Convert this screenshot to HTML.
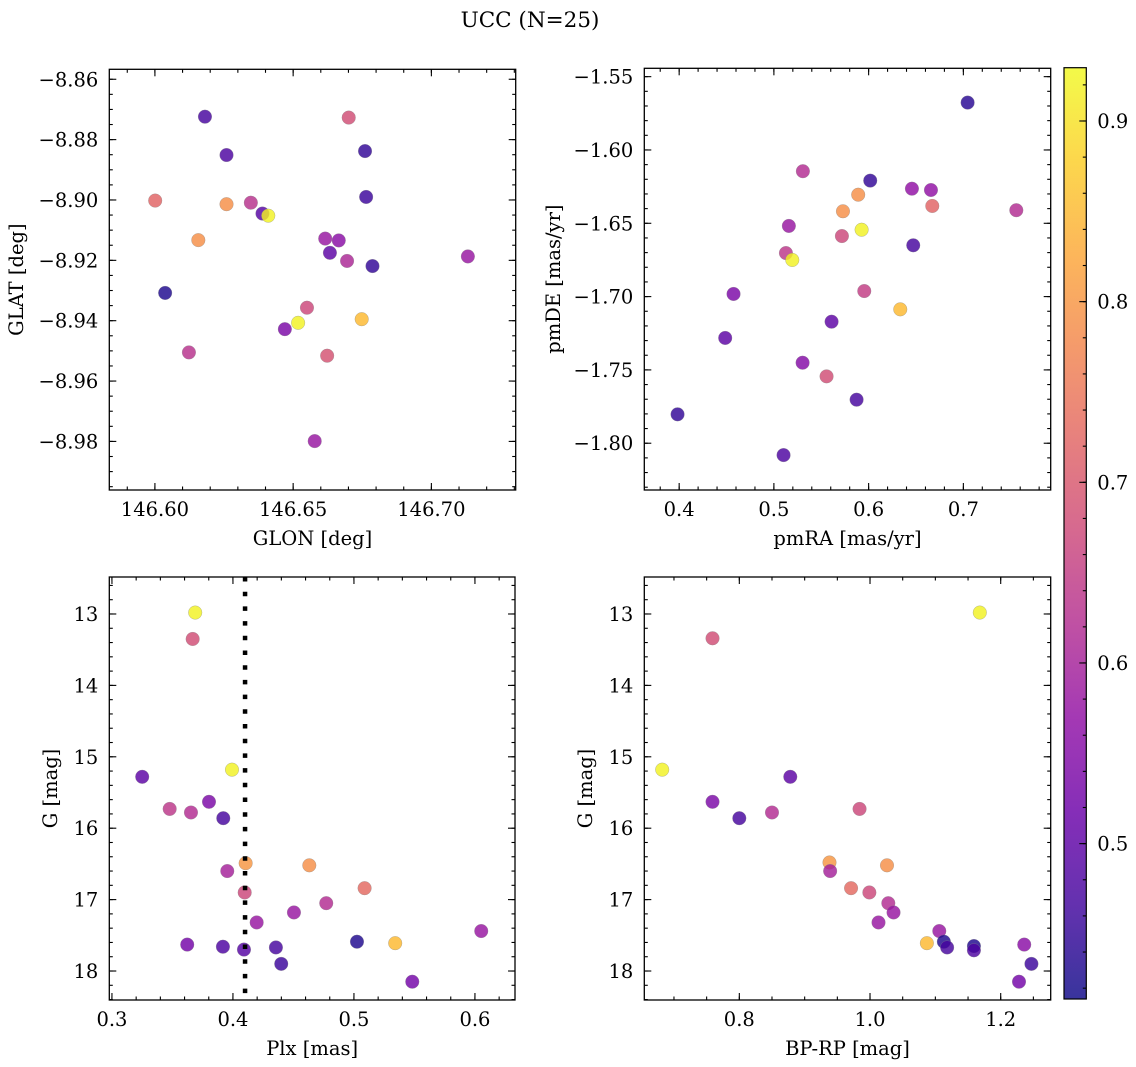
<!DOCTYPE html>
<html><head><meta charset="utf-8"><style>
html,body{margin:0;padding:0;background:#fff;width:1136px;height:1067px;overflow:hidden;}
svg{display:block;font-family:"DejaVu Serif","Liberation Serif",serif;}
</style></head><body>
<svg id="fig" width="1136" height="1067" viewBox="0 0 1136 1067" xmlns="http://www.w3.org/2000/svg">
<text x="530" y="27" font-size="21.5" text-anchor="middle">UCC (N=25)</text>
</svg>
<script>
// ---- Panel 1: GLON / GLAT ----
const glonTL = [146.6181,146.6701,146.6259,146.6760,146.6001,146.6259,146.6347,146.6389,146.6410,146.6764,146.6157,146.6616,146.6665,146.6633,146.6695,146.6787,146.7132,146.6037,146.6550,146.6518,146.6748,146.6470,146.6123,146.6623,146.6578];
const glatTL = [-8.8724,-8.8727,-8.8851,-8.8838,-8.9002,-8.9014,-8.9009,-8.9045,-8.9052,-8.8990,-8.9133,-8.9128,-8.9134,-8.9175,-8.9202,-8.9219,-8.9187,-8.9308,-8.9357,-8.9407,-8.9395,-8.9428,-8.9505,-8.9516,-8.9799];
const probTL = [0.47,0.68,0.48,0.45,0.72,0.79,0.63,0.49,0.92,0.46,0.79,0.58,0.56,0.5,0.61,0.45,0.58,0.43,0.67,0.92,0.85,0.54,0.63,0.69,0.58];
const xTicksTL = [146.60,146.65,146.70];
const xTickLabelsTL = ["146.60","146.65","146.70"];
const yTicksTL = [-8.86,-8.88,-8.90,-8.92,-8.94,-8.96,-8.98];
const yTickLabelsTL = ["\u22128.86","\u22128.88","\u22128.90","\u22128.92","\u22128.94","\u22128.96","\u22128.98"];

// ---- Panel 2: pmRA / pmDE ----
const pmraTR = [0.7045,0.5306,0.6017,0.6457,0.6658,0.5890,0.6672,0.7559,0.5729,0.5158,0.5926,0.5718,0.6471,0.5127,0.5194,0.5954,0.4574,0.6334,0.5609,0.4486,0.5303,0.5556,0.5873,0.3983,0.5102];
const pmdeTR = [-1.5677,-1.6145,-1.6209,-1.6264,-1.6273,-1.6305,-1.6382,-1.6411,-1.6418,-1.6518,-1.6544,-1.6587,-1.6650,-1.6703,-1.6750,-1.6962,-1.6982,-1.7087,-1.7171,-1.7282,-1.7451,-1.7544,-1.7703,-1.7803,-1.8081];
const probTR = [0.44,0.62,0.45,0.57,0.57,0.79,0.72,0.62,0.79,0.58,0.92,0.67,0.47,0.64,0.92,0.65,0.54,0.85,0.5,0.5,0.55,0.68,0.47,0.45,0.48];
const xTicksTR = [0.4,0.5,0.6,0.7];
const xTickLabelsTR = ["0.4","0.5","0.6","0.7"];
const yTicksTR = [-1.55,-1.60,-1.65,-1.70,-1.75,-1.80];
const yTickLabelsTR = ["\u22121.55","\u22121.60","\u22121.65","\u22121.70","\u22121.75","\u22121.80"];

// ---- Panel 3: Plx / G ----
const plxBL = [0.3688,0.3667,0.3250,0.3992,0.3477,0.3802,0.3653,0.3920,0.4105,0.4631,0.3953,0.4097,0.5088,0.4771,0.4504,0.4196,0.6052,0.5025,0.5341,0.3622,0.3917,0.4091,0.4355,0.4399,0.5482];
const gBL = [12.98,13.35,15.28,15.18,15.73,15.63,15.78,15.86,16.49,16.52,16.60,16.90,16.84,17.05,17.18,17.32,17.44,17.59,17.61,17.63,17.66,17.70,17.67,17.90,18.15];
const probBL = [0.92,0.68,0.5,0.92,0.64,0.54,0.62,0.47,0.8,0.79,0.6,0.67,0.73,0.62,0.58,0.58,0.58,0.43,0.85,0.53,0.48,0.49,0.47,0.46,0.53];
const plxCut = [0.41];
const xTicksBL = [0.3,0.4,0.5,0.6];
const xTickLabelsBL = ["0.3","0.4","0.5","0.6"];
const yTicksG = [13,14,15,16,17,18];
const yTickLabelsG = ["13","14","15","16","17","18"];

// ---- Panel 4: BP-RP / G ----
const bprpBR = [1.168,0.759,0.682,0.878,0.759,0.800,0.850,0.984,0.938,0.939,1.026,0.971,0.999,1.028,1.036,1.013,1.106,1.113,1.087,1.236,1.159,1.118,1.159,1.247,1.228];
const gBR = [12.98,13.34,15.18,15.28,15.63,15.86,15.78,15.73,16.48,16.60,16.52,16.84,16.90,17.05,17.18,17.32,17.44,17.59,17.61,17.63,17.65,17.67,17.71,17.90,18.15];
const probBR = [0.92,0.68,0.92,0.5,0.54,0.47,0.62,0.67,0.8,0.6,0.79,0.73,0.67,0.62,0.58,0.58,0.58,0.43,0.85,0.56,0.43,0.47,0.48,0.46,0.53];
const xTicksBR = [0.8,1.0,1.2];
const xTickLabelsBR = ["0.8","1.0","1.2"];

// ---- Colorbar ----
const cbTicks = [0.5,0.6,0.7,0.8,0.9];
const cbTickLabels = ["0.5","0.6","0.7","0.8","0.9"];
const cbMin = 0.414, cbMax = 0.9295;

const NS = "http://www.w3.org/2000/svg";
const svg = document.getElementById('fig');
const TICKFS = 19.5, LABFS = 19.5;
function mk(tag, attrs, parent){
  const e = document.createElementNS(NS, tag);
  for (const k in attrs) e.setAttribute(k, attrs[k]);
  (parent||svg).appendChild(e);
  return e;
}
const plasma = ["#0d0887","#41049d","#6a00a8","#8f0da4","#b12a90","#cc4778","#e16462","#f2844b","#fca636","#fcce25","#f0f921"];
function hex(h){return [parseInt(h.slice(1,3),16),parseInt(h.slice(3,5),16),parseInt(h.slice(5,7),16)];}
function cmap(v){
  let t = (v-cbMin)/(cbMax-cbMin); t=Math.max(0,Math.min(1,t));
  const p=t*10, i=Math.min(9,Math.floor(p)), f=p-i;
  const a=hex(plasma[i]), b=hex(plasma[i+1]);
  return "rgb("+a.map((c,k)=>Math.round(c+(b[k]-c)*f)).join(",")+")";
}
function minorTicks(lo,hi,step){const r=[];const s=Math.ceil(lo/step-1e-6);for(let k=s;k*step<=hi+1e-9;k++)r.push(k*step);return r;}

function panel(o){
  const g = mk('g',{});
  
  
  const sx = v => o.x0 + (v-o.xmin)/(o.xmax-o.xmin)*(o.x1-o.x0);
  const sy = o.invert
    ? (v => o.y0 + (v-o.ymin)/(o.ymax-o.ymin)*(o.y1-o.y0))
    : (v => o.y0 + (o.ymax-v)/(o.ymax-o.ymin)*(o.y1-o.y0));
  const pg = mk('g',{}, g);
  
  
  for (let i=0;i<o.xs.length;i++){
    const c = mk('circle',{cx:sx(o.xs[i]),cy:sy(o.ys[i]),r:6.8,fill:cmap(o.cs[i]),'fill-opacity':0.82,stroke:'#888','stroke-width':0.5,'stroke-opacity':0.6}, pg);
    
    
  }
  if (o.vline){
    for (const v of o.vline){
      const l = mk('line',{x1:sx(v),x2:sx(v),y1:o.y0,y2:o.y1,stroke:'#000','stroke-width':4.5,'stroke-dasharray':'4.5 10.2'}, g);
      
      
    }
  }
  const fr = mk('rect',{x:o.x0,y:o.y0,width:o.x1-o.x0,height:o.y1-o.y0,fill:'none',stroke:'#000','stroke-width':1.3}, g);
  
  
  const tk = {stroke:'#000','stroke-width':1.1};
  for (const v of minorTicks(o.xmin,o.xmax,o.xminor)){const X=sx(v);mk('line',Object.assign({x1:X,x2:X,y1:o.y1,y2:o.y1-3.5},tk),g);mk('line',Object.assign({x1:X,x2:X,y1:o.y0,y2:o.y0+3.5},tk),g);}
  for (const v of minorTicks(o.ymin,o.ymax,o.yminor)){const Y=sy(v);mk('line',Object.assign({x1:o.x0,x2:o.x0+3.5,y1:Y,y2:Y},tk),g);mk('line',Object.assign({x1:o.x1,x2:o.x1-3.5,y1:Y,y2:Y},tk),g);}
  o.xt.forEach((v,i)=>{const X=sx(v);mk('line',Object.assign({x1:X,x2:X,y1:o.y1,y2:o.y1-7},tk),g);mk('line',Object.assign({x1:X,x2:X,y1:o.y0,y2:o.y0+7},tk),g);
    const t=mk('text',{x:X,y:o.y1+26,'font-size':TICKFS,'text-anchor':'middle'},g);t.textContent=o.xl[i];
    
    });
  o.yt.forEach((v,i)=>{const Y=sy(v);mk('line',Object.assign({x1:o.x0,x2:o.x0+7,y1:Y,y2:Y},tk),g);mk('line',Object.assign({x1:o.x1,x2:o.x1-7,y1:Y,y2:Y},tk),g);
    const t=mk('text',{x:o.x0-11,y:Y+7,'font-size':TICKFS,'text-anchor':'end'},g);t.textContent=o.yl[i];
    
    });
  const xt=mk('text',{x:(o.x0+o.x1)/2,y:o.y1+55,'font-size':LABFS,'text-anchor':'middle'},g);xt.textContent=o.xlabel;
  
  
  const yt=mk('text',{x:0,y:0,'font-size':LABFS,'text-anchor':'middle',transform:'translate('+o.ylx+','+(o.y0+o.y1)/2+') rotate(-90)'},g);yt.textContent=o.ylabel;
  
  
}

panel({name:'glon-glat-panel',x0:109.3,x1:515.7,y0:69.3,y1:490,xmin:146.5835,xmax:146.7305,ymin:-8.9961,ymax:-8.8567,
  xs:glonTL,ys:glatTL,cs:probTL,xt:xTicksTL,xl:xTickLabelsTL,yt:yTicksTL,yl:yTickLabelsTL,xminor:0.01,yminor:0.005,
  xlabel:'GLON [deg]',ylabel:'GLAT [deg]',ylx:23});
panel({name:'pm-panel',x0:644.3,x1:1050.7,y0:68.3,y1:490,xmin:0.3632,xmax:0.7922,ymin:-1.8319,ymax:-1.5443,
  xs:pmraTR,ys:pmdeTR,cs:probTR,xt:xTicksTR,xl:xTickLabelsTR,yt:yTicksTR,yl:yTickLabelsTR,xminor:0.02,yminor:0.01,
  xlabel:'pmRA [mas/yr]',ylabel:'pmDE [mas/yr]',ylx:560});
panel({name:'plx-g-panel',x0:109.3,x1:515,y0:577,y1:1000,xmin:0.2978,xmax:0.6331,ymin:12.482,ymax:18.406,invert:true,
  xs:plxBL,ys:gBL,cs:probBL,vline:plxCut,xt:xTicksBL,xl:xTickLabelsBL,yt:yTicksG,yl:yTickLabelsG,xminor:0.02,yminor:0.2,
  xlabel:'Plx [mas]',ylabel:'G [mag]',ylx:57});
panel({name:'cmd-panel',x0:644.3,x1:1050.7,y0:577,y1:1000,xmin:0.6546,xmax:1.2765,ymin:12.482,ymax:18.406,invert:true,
  xs:bprpBR,ys:gBR,cs:probBR,xt:xTicksBR,xl:xTickLabelsBR,yt:yTicksG,yl:yTickLabelsG,xminor:0.05,yminor:0.2,
  xlabel:'BP-RP [mag]',ylabel:'G [mag]',ylx:592});

(function(){
  const cx0=1064, cx1=1086.3, cy0=67.7, cy1=999;
  const g = mk('g',{});
  
  
  const defs = mk('defs',{},g);
  const lg = mk('linearGradient',{id:'cbgrad',x1:0,y1:1,x2:0,y2:0},defs);
  for (let i=0;i<=20;i++){const v=cbMin+(cbMax-cbMin)*i/20;mk('stop',{offset:(i/20),'stop-color':cmap(v),'stop-opacity':0.82},lg);}
  mk('rect',{x:cx0,y:cy0,width:cx1-cx0,height:cy1-cy0,fill:'url(#cbgrad)',stroke:'#000','stroke-width':1.2},g);
  const sy = v => cy1 - (v-cbMin)/(cbMax-cbMin)*(cy1-cy0);
  for (const v of minorTicks(cbMin,cbMax,0.02)){const Y=sy(v);mk('line',{x1:cx1,x2:cx1-3.5,y1:Y,y2:Y,stroke:'#000','stroke-width':1.1},g);}
  cbTicks.forEach((v,i)=>{const Y=sy(v);mk('line',{x1:cx1,x2:cx1-7,y1:Y,y2:Y,stroke:'#000','stroke-width':1.1},g);
    const t=mk('text',{x:cx1+11,y:Y+7,'font-size':TICKFS},g);t.textContent=cbTickLabels[i];
    
    });
})();
</script>
</body></html>
